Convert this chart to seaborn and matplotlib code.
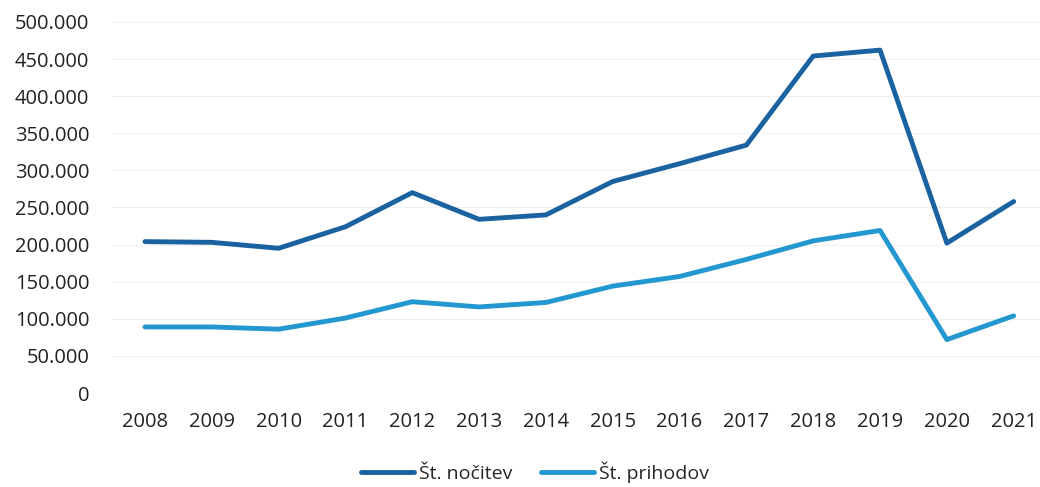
import pandas as pd
import seaborn as sns
import matplotlib.pyplot as plt
from matplotlib.ticker import FuncFormatter

# Podatki odčitani iz grafa
leta = [2008, 2009, 2010, 2011, 2012, 2013, 2014, 2015, 2016, 2017, 2018, 2019, 2020, 2021]
nocitve = [204000, 203000, 195000, 224000, 270000, 234000, 240000, 285000, 309000, 334000, 454000, 462000, 202000, 258000]
prihodi = [89000, 89000, 86000, 101000, 123000, 116000, 122000, 144000, 157000, 180000, 205000, 219000, 72000, 104000]

serije = ["Št. nočitev", "Št. prihodov"]
barve = ["#1a62a0", "#2397d0"]

df = pd.DataFrame({
    "Leto": leta * 2,
    "Vrednost": nocitve + prihodi,
    "Serija": [serije[0]] * len(leta) + [serije[1]] * len(leta),
})

sns.set_style("white")
plt.rcParams["font.family"] = ["Open Sans", "DejaVu Sans"]

fig = plt.figure(figsize=(10.4, 4.87), dpi=100)
ax = fig.add_axes([0.1073, 0.193, 0.8995, 0.762])

sns.lineplot(data=df, x="Leto", y="Vrednost", hue="Serija", palette=barve,
             linewidth=3.5, ax=ax, legend=True)

ax.set_xlim(2007.5, 2021.5)
ax.set_ylim(0, 500000)
ax.set_xticks(leta)
ax.set_yticks(range(0, 500001, 50000))
ax.yaxis.set_major_formatter(FuncFormatter(lambda v, p: f"{int(v):,}".replace(",", ".")))
ax.grid(axis="y", color="#f0f0f0", linewidth=0.8)
ax.set_axisbelow(True)
for s in ax.spines.values():
    s.set_visible(False)
ax.tick_params(axis="y", length=0, pad=16, labelsize=14.5, labelcolor="#222222")
ax.tick_params(axis="x", length=0, pad=14, labelsize=14.5, labelcolor="#222222")
ax.set_xlabel("")
ax.set_ylabel("")

ax.legend(loc="center", bbox_to_anchor=(535 / 1040, 15 / 487), bbox_transform=fig.transFigure,
          ncol=2, frameon=False, fontsize=14, handlelength=2.7, handletextpad=0.25,
          columnspacing=1.5, title=None, borderpad=0.2)

plt.savefig("out.png", dpi=100)
